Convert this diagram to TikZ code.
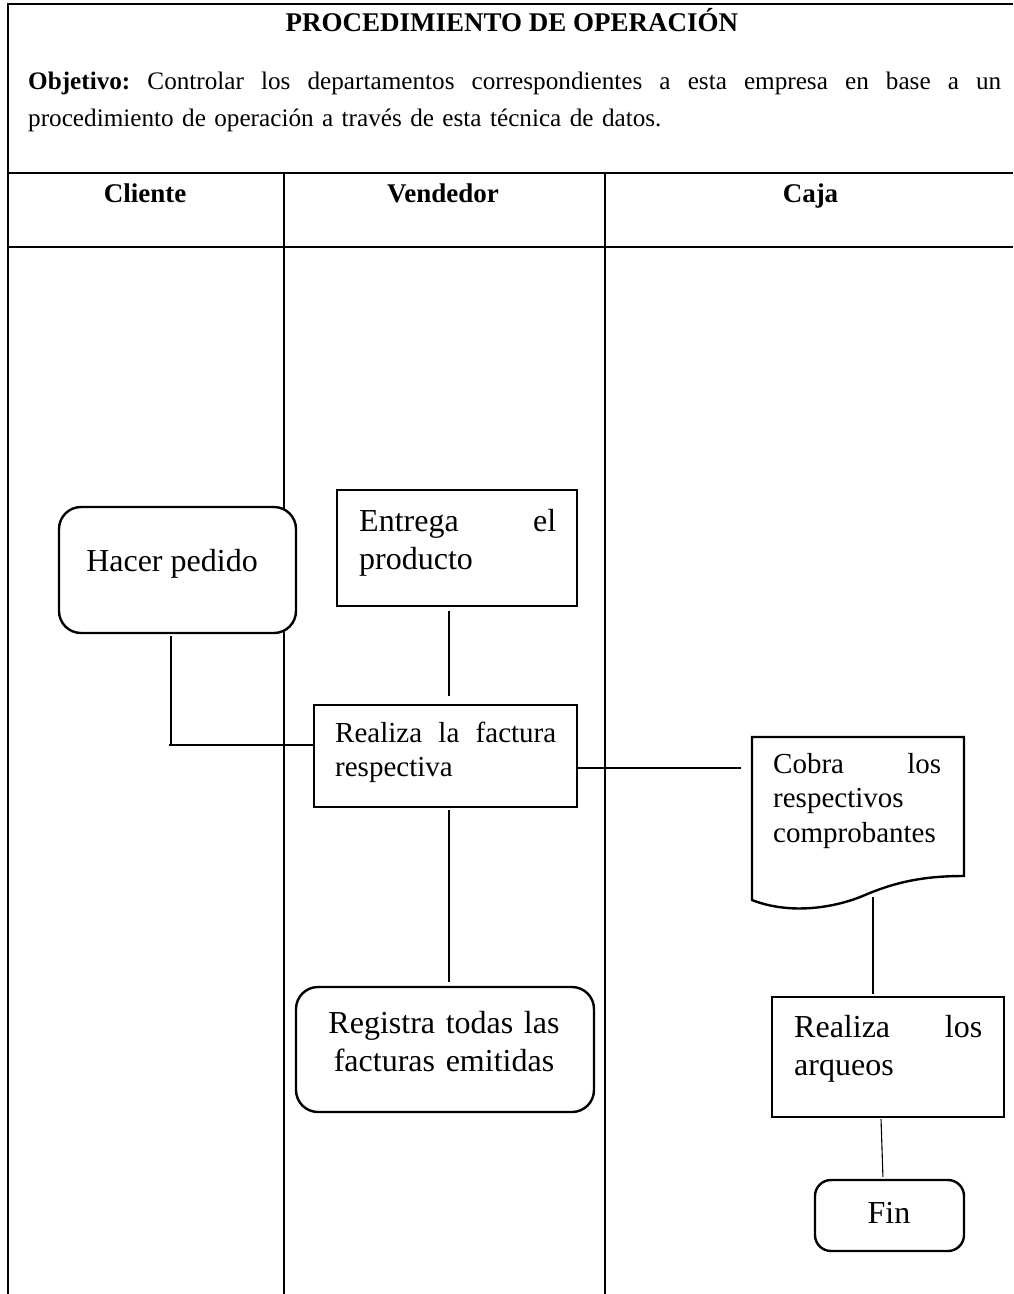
\documentclass[tikz,border=0pt]{standalone}
\usepackage{fontspec}
\setmainfont{Liberation Serif}
\begin{document}
\begin{tikzpicture}[x=1pt,y=-1pt]
\tikzset{
  frame/.style={line width=2pt},
  procbox/.style={draw, fill=white, line width=2.4pt, inner sep=0pt},
  roundbox/.style={procbox, rounded corners=22pt},
  link/.style={line width=1.1pt},
  bodytext/.style={font=\fontsize{25.2}{37}\selectfont, inner sep=0pt},
  headtext/.style={font=\fontsize{27}{37}\selectfont\bfseries, inner sep=0pt},
  bigtext/.style={font=\fontsize{32}{38}\selectfont, inner sep=0pt},
  smalltext/.style={font=\fontsize{29}{34.5}\selectfont, inner sep=0pt},
}
\useasboundingbox (0,0) rectangle (1013,1294);

% table frame and swimlanes
\draw[frame] (8,1294) -- (8,4) -- (1013,4);
\draw[frame] (8,173) -- (1013,173);
\draw[frame] (8,247) -- (1013,247);
\draw[frame] (284,173) -- (284,1294);
\draw[frame] (605,173) -- (605,1294);

% heading
\node[headtext, anchor=base] (title) at (512,31) {PROCEDIMIENTO DE OPERACIÓN};
\node[bodytext, anchor=base west, text width=973pt, align=left] (objetivo) at (28,89)
  {\textbf{Objetivo:}\hfill Controlar\hfill los\hfill departamentos\hfill correspondientes\hfill a\hfill esta\hfill empresa\hfill en\hfill base\hfill a\hfill un\\procedimiento de operación a través de esta técnica de datos.};
\node[headtext, anchor=base] (hcliente) at (145,202) {Cliente};
\node[headtext, anchor=base] (hvendedor) at (443,202) {Vendedor};
\node[headtext, anchor=base] (hcaja) at (810.5,202) {Caja};

% process boxes
\node[roundbox, minimum width=237pt, minimum height=126pt] (hacer) at (177.5,570) {};
\node[procbox, minimum width=240pt, minimum height=116pt] (entrega) at (457,548) {};
\node[procbox, minimum width=263pt, minimum height=102pt] (realiza) at (445.5,756) {};
\node[roundbox, minimum width=298pt, minimum height=125pt] (registra) at (445,1049.5) {};
\node[procbox, minimum width=232pt, minimum height=120pt] (arqueos) at (888,1057) {};
\node[roundbox, rounded corners=16pt, minimum width=149pt, minimum height=71pt] (fin) at (889.5,1215.5) {};

% document symbol
\node[inner sep=0pt, minimum width=212pt, minimum height=160pt, anchor=north west] (cobra) at (752,737) {};
\draw[procbox] (752,737) -- (964,737) -- (964,876)
  .. controls (930,876) and (900,880) .. (865,895)
  .. controls (835,908) and (790,915) .. (752,900) -- cycle;

% box texts
\node[bigtext, anchor=base] (thacer) at (172,571) {Hacer pedido};
\node[bigtext, anchor=base west, text width=197pt, align=left] (tentrega) at (359,531) {Entrega\hfill el\\producto};
\node[smalltext, anchor=base west, text width=221pt, align=left] (trealiza) at (335,742) {Realiza\hfill la\hfill factura\\respectiva};
\node[smalltext, anchor=base west, text width=168pt, align=left] (tcobra) at (773,773) {Cobra\hfill los\\respectivos\\comprobantes};
\node[bigtext, anchor=base, text width=280pt, align=center] (tregistra) at (444,1033) {Registra todas las\\facturas emitidas};
\node[bigtext, anchor=base west, text width=188pt, align=left] (tarqueos) at (794,1037) {Realiza\hfill los\\arqueos};
\node[bigtext, anchor=base] (tfin) at (889,1223) {Fin};

% connectors
\coordinate (j1) at (171,745);
\coordinate (vx) at (449,0);
\coordinate (hy) at (0,768);
\coordinate (cx) at (873,0);
\draw[link] ([yshift=-2pt]hacer.south -| j1) -- (j1);
\draw[link] ([xshift=-2pt]j1) -- (j1 -| realiza.west);
\draw[link, shorten <=4pt, shorten >=8pt] (vx |- entrega.south) -- (vx |- realiza.north);
\draw[link, shorten <=2pt, shorten >=4pt] (vx |- realiza.south) -- (vx |- registra.north);
\draw[link, shorten >=11pt] (realiza.east |- hy) -- (cobra.west |- hy);
\draw[link, shorten >=2pt] (cx |- cobra.south) -- (cx |- arqueos.north);
\draw[link, shorten <=1pt, shorten >=2pt] ([xshift=-7pt]arqueos.south) -- ([xshift=-6.5pt]fin.north);
\end{tikzpicture}
\end{document}
